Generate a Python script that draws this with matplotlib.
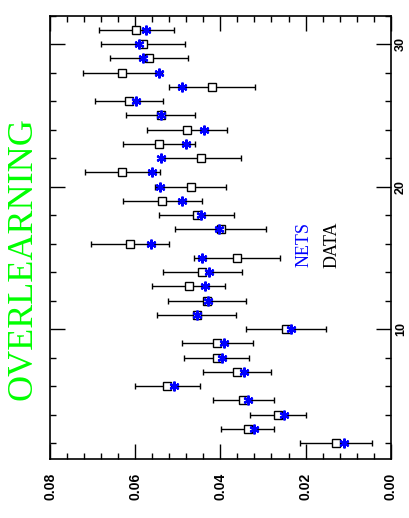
import numpy as np
import matplotlib
matplotlib.use("Agg")
import matplotlib.pyplot as plt
from matplotlib.ticker import MultipleLocator

# training pattern index
idx = np.arange(2, 32)

# measured values (squares) with their errors
data = [0.0129, 0.0336, 0.0264, 0.0346, 0.0525, 0.0361, 0.0409, 0.0407,
        0.0247, 0.0456, 0.0432, 0.0474, 0.0442, 0.0360, 0.0612, 0.0399,
        0.0456, 0.0536, 0.0470, 0.0630, 0.0445, 0.0544, 0.0478, 0.0540,
        0.0614, 0.0420, 0.0630, 0.0567, 0.0581, 0.0597]
err = [0.0085, 0.0063, 0.0066, 0.0071, 0.0076, 0.0080, 0.0076, 0.0084,
       0.0094, 0.0092, 0.0092, 0.0086, 0.0093, 0.0101, 0.0092, 0.0107,
       0.0087, 0.0092, 0.0083, 0.0088, 0.0094, 0.0085, 0.0094, 0.0081,
       0.0080, 0.0101, 0.0092, 0.0092, 0.0099, 0.0087]

# network outputs (asterisks)
nets = [0.0109, 0.0321, 0.0251, 0.0334, 0.0510, 0.0345, 0.0397, 0.0391,
        0.0234, 0.0454, 0.0429, 0.0437, 0.0427, 0.0442, 0.0563, 0.0403,
        0.0445, 0.0489, 0.0542, 0.0561, 0.0539, 0.0481, 0.0438, 0.0539,
        0.0597, 0.0489, 0.0545, 0.0582, 0.0591, 0.0575]

xticks = [0.00, 0.02, 0.04, 0.06, 0.08]
yticks = [10, 20, 30]

fig = plt.figure(figsize=(4.1, 5.18), dpi=100)
ax = fig.add_axes([0.122, 0.114, 0.831, 0.856])

ax.errorbar(data, idx, xerr=err, fmt='s', color='black', ms=5.5,
            mfc='white', mec='black', mew=1.0, elinewidth=1.0,
            capsize=2.5, capthick=1.0, zorder=2)
ax.plot(nets, idx, linestyle='none', marker=(6, 2, 0), color='blue',
        ms=7, mew=1.6, zorder=3)

ax.set_xlim(0.08, 0.0)
ax.set_ylim(0.9, 32.0)

ax.set_xticks(xticks)
ax.set_xticklabels(["%.2f" % v for v in xticks])
ax.xaxis.set_minor_locator(MultipleLocator(0.004))
ax.set_yticks(yticks)
ax.yaxis.set_minor_locator(MultipleLocator(2))

ax.tick_params(which='both', direction='in', top=True, bottom=True,
               left=True, right=True, labelleft=False, labelright=True,
               width=1.0)
ax.tick_params(which='major', length=11)
ax.tick_params(which='minor', length=4)
ax.tick_params(axis='x', pad=10)
ax.tick_params(axis='y', pad=3)

for lab in ax.get_xticklabels():
    lab.set_rotation(90)
    lab.set_va('top')
    lab.set_ha('center')
    lab.set_fontfamily('Liberation Sans')
    lab.set_fontweight('bold')
    lab.set_fontsize(10)
for lab in ax.get_yticklabels():
    lab.set_rotation(90)
    lab.set_va('center')
    lab.set_ha('left')
    lab.set_fontfamily('Liberation Sans')
    lab.set_fontweight('bold')
    lab.set_fontsize(9)

for sp in ax.spines.values():
    sp.set_linewidth(1.2)

fig.text(0.055, 0.501, "OVERLEARNING", color='#00ff00', rotation=90,
         ha='center', va='center', family='Liberation Serif', fontsize=26)
fig.text(304 / 410, 1 - 267 / 518, "NETS", color='blue', rotation=90,
         ha='center', va='bottom', family='Liberation Serif', fontsize=13)
fig.text(332 / 410, 1 - 268 / 518, "DATA", color='black', rotation=90,
         ha='center', va='bottom', family='Liberation Serif', fontsize=13)

fig.savefig("out.png", dpi=100)
